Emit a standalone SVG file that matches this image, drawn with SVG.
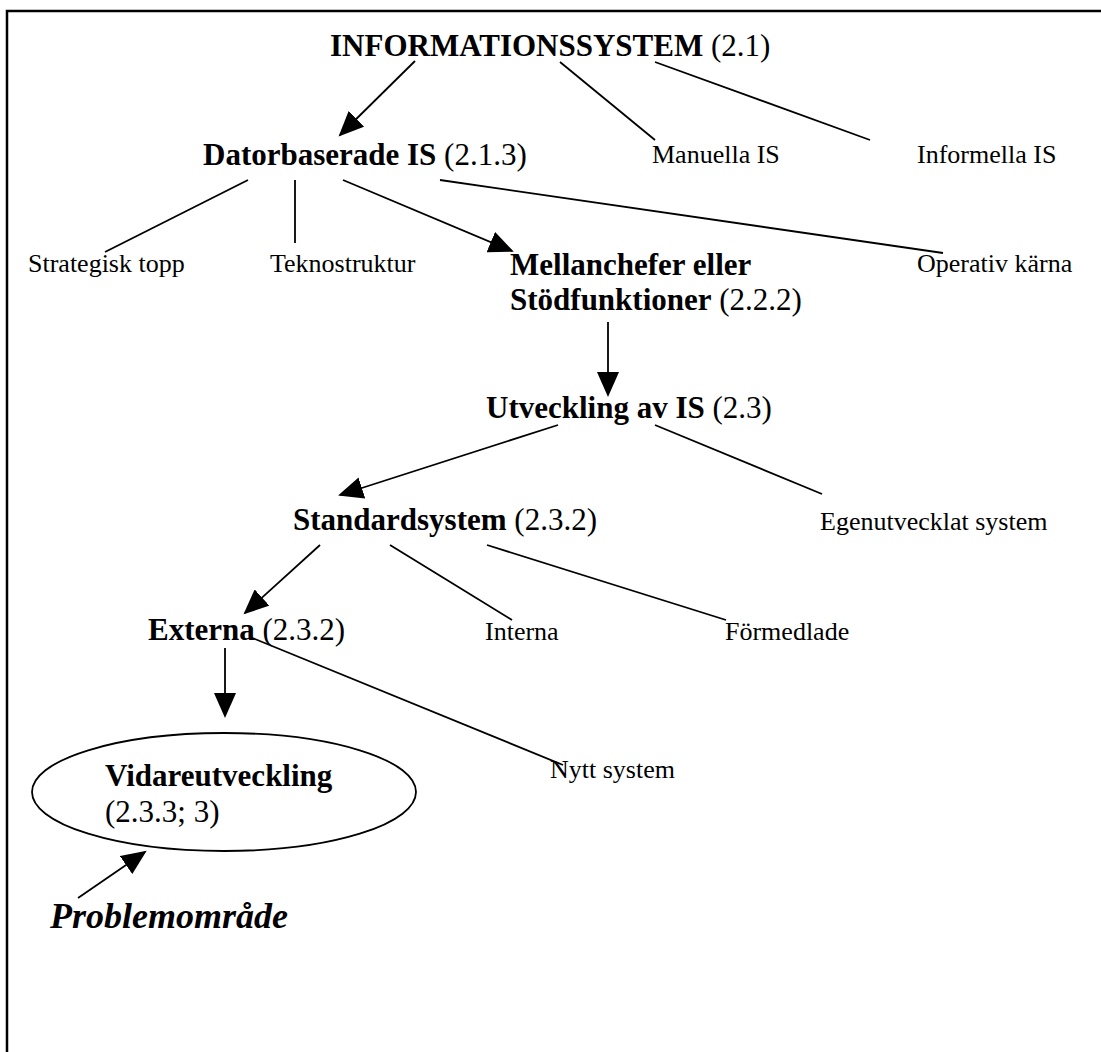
<svg xmlns="http://www.w3.org/2000/svg" width="1101" height="1052" viewBox="0 0 1101 1052">
  <style>
    text { font-family: "Liberation Serif", "Times New Roman", serif; fill: #000; }
    .b { font-size: 31px; }
    .b .k { font-weight: bold; }
    .s { font-size: 26px; }
    .p { font-size: 36px; font-weight: bold; font-style: italic; }
    .ln { stroke: #000; stroke-width: 1.8; fill: none; }
    .ar { marker-end: url(#head); }
  </style>
  <defs>
    <marker id="head" markerUnits="userSpaceOnUse" markerWidth="26" markerHeight="22" refX="23" refY="11" orient="auto">
      <path d="M0,0 L25,11 L0,22 z" fill="#000"/>
    </marker>
  </defs>
  <rect width="1101" height="1052" fill="#fff"/>
  <!-- frame: top and left edges -->
  <path d="M7,1052 V11 H1101" stroke="#000" stroke-width="2.5" fill="none"/>

  <g id="connectors">
    <line class="ln ar" x1="415" y1="61" x2="340" y2="135"/>
    <line class="ln" x1="560" y1="62" x2="655" y2="140"/>
    <line class="ln" x1="655" y1="62" x2="870" y2="140"/>
    <line class="ln" x1="248" y1="180" x2="105" y2="252"/>
    <line class="ln" x1="295" y1="180" x2="295" y2="243"/>
    <line class="ln ar" x1="343" y1="180" x2="512" y2="251"/>
    <line class="ln" x1="440" y1="180" x2="943" y2="253"/>
    <line class="ln ar" x1="608" y1="322" x2="608" y2="395"/>
    <line class="ln ar" x1="558" y1="425" x2="340" y2="495"/>
    <line class="ln" x1="655" y1="425" x2="822" y2="494"/>
    <line class="ln ar" x1="320" y1="545" x2="245" y2="613"/>
    <line class="ln" x1="390" y1="545" x2="512" y2="620"/>
    <line class="ln" x1="487" y1="545" x2="726" y2="620"/>
    <line class="ln ar" x1="225" y1="648" x2="225" y2="716"/>
    <line class="ln" x1="250" y1="637" x2="563" y2="765"/>
    <line class="ln ar" x1="78" y1="898" x2="145" y2="852"/>
  </g>

  <g id="informationssystem"><text class="b" x="330" y="56"><tspan class="k">INFORMATIONSSYSTEM</tspan> (2.1)</text></g>
  <g id="datorbaserade"><text class="b" x="203" y="165"><tspan class="k">Datorbaserade IS</tspan> (2.1.3)</text></g>
  <g id="manuella"><text class="s" x="652" y="163">Manuella IS</text></g>
  <g id="informella"><text class="s" x="917" y="163">Informella IS</text></g>
  <g id="strategisk"><text class="s" x="28" y="272">Strategisk topp</text></g>
  <g id="teknostruktur"><text class="s" x="270" y="272">Teknostruktur</text></g>
  <g id="mellanchefer">
    <text class="b" x="510" y="275"><tspan class="k">Mellanchefer eller</tspan></text>
    <text class="b" x="510" y="310"><tspan class="k">Stödfunktioner</tspan> (2.2.2)</text>
  </g>
  <g id="operativ"><text class="s" x="917" y="272">Operativ kärna</text></g>
  <g id="utveckling"><text class="b" x="486" y="418"><tspan class="k">Utveckling av IS</tspan> (2.3)</text></g>
  <g id="standardsystem"><text class="b" x="293" y="530"><tspan class="k">Standardsystem</tspan> (2.3.2)</text></g>
  <g id="egenutvecklat"><text class="s" x="820" y="530">Egenutvecklat system</text></g>
  <g id="externa"><text class="b" x="148" y="640"><tspan class="k">Externa</tspan> (2.3.2)</text></g>
  <g id="interna"><text class="s" x="485" y="640">Interna</text></g>
  <g id="formedlade"><text class="s" x="725" y="640">Förmedlade</text></g>
  <g id="nytt"><text class="s" x="550" y="778">Nytt system</text></g>
  <g id="vidareutveckling">
    <ellipse cx="224" cy="792" rx="192" ry="59" fill="none" stroke="#000" stroke-width="1.8"/>
    <text class="b" x="105" y="786"><tspan class="k">Vidareutveckling</tspan></text>
    <text class="b" x="105" y="822">(2.3.3; 3)</text>
  </g>
  <g id="problemomrade"><text class="p" x="50" y="928">Problemområde</text></g>
</svg>
